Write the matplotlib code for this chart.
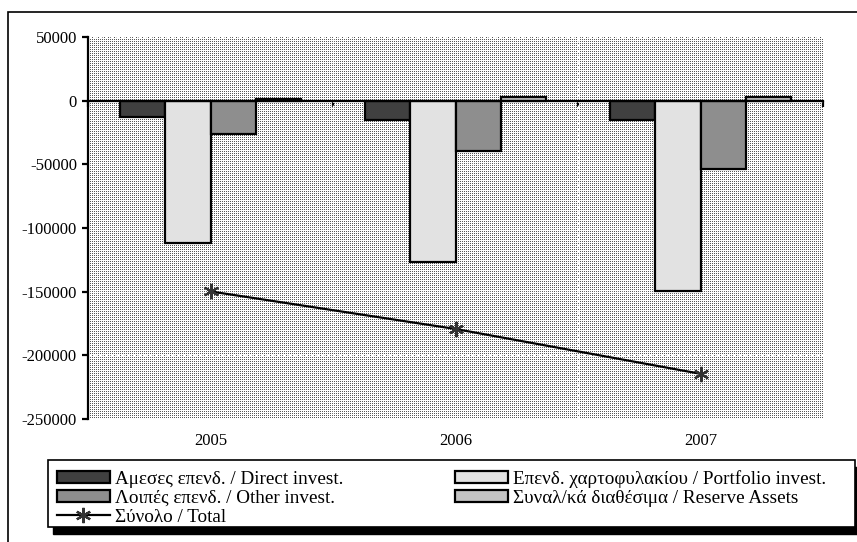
import numpy as np
import matplotlib
matplotlib.use('Agg')
import matplotlib.pyplot as plt
from matplotlib.patches import Patch, Rectangle
from matplotlib.lines import Line2D

plt.rcParams['font.family'] = ['Liberation Serif', 'DejaVu Serif']
plt.rcParams['axes.unicode_minus'] = False

years = ['2005', '2006', '2007']
direct_inv = [-13200, -15300, -15300]
portfolio_inv = [-111900, -126800, -149800]
other_inv = [-26200, -39300, -53900]
reserve_assets = [1500, 3000, 3200]
total = [-149800, -179300, -214500]

series_labels = ['Αμεσες επενδ. / Direct invest.',
                 'Επενδ. χαρτοφυλακίου / Portfolio invest.',
                 'Λοιπές επενδ. / Other invest.',
                 'Συναλ/κά διαθέσιμα / Reserve Assets']
total_label = 'Σύνολο / Total'
bar_colours = ['#404040', '#e2e2e2', '#8e8e8e', '#c4c4c4']

W, H = 857, 542
fig = plt.figure(figsize=(W / 100, H / 100), dpi=100)
fig.patch.set_facecolor('white')

# axes box in pixels (left, top, right, bottom)
px_l, px_t, px_r, px_b = 88, 37, 823, 419
ax = fig.add_axes([px_l / W, 1 - px_b / H, (px_r - px_l) / W, (px_b - px_t) / H])
ax.set_facecolor('none')

# stippled plot background, pixel for pixel
bw, bh = px_r - px_l, px_b - px_t
yy, xx = np.mgrid[0:bh, 0:bw]
dots = np.where((yy % 2 == 0) & (xx % 2 == 0), 0.35, 1.0)
bg = fig.figimage(dots, xo=px_l, yo=H - px_b, cmap='gray', vmin=0, vmax=1, zorder=-1)

x = np.arange(len(years))
w = 0.184
series = [direct_inv, portfolio_inv, other_inv, reserve_assets]
for i, vals in enumerate(series):
    ax.bar(x + (i - 1.5) * w, vals, width=w, color=bar_colours[i],
           edgecolor='black', linewidth=1.6, zorder=3)

ax.plot(x, total, color='black', linewidth=1.6, zorder=4)
ax.plot(x, total, linestyle='none', marker=(6, 2, 0), markersize=11,
        markeredgecolor='#333333', markeredgewidth=1.6, zorder=5)

ax.set_xlim(-0.5, 2.5)
ax.set_ylim(-250000, 50000)
ax.set_yticks(np.arange(-250000, 50001, 50000))
ax.yaxis.grid(True, color='white', linestyle=(0, (2, 2)), linewidth=1.0, zorder=1)
ax.set_axisbelow(True)
ax.vlines([0.5, 1.5], -250000, 50000, colors='white', linestyles=(0, (2, 2)),
          linewidth=1.0, zorder=1)

for s in ['top', 'right']:
    ax.spines[s].set_visible(False)
ax.spines['left'].set_linewidth(1.6)
ax.spines['bottom'].set_position(('data', 0))
ax.spines['bottom'].set_linewidth(1.6)
ax.spines['bottom'].set_zorder(6)
ax.set_xticks([-0.5, 0.5, 1.5, 2.5])
ax.set_xticklabels([])
ax.tick_params(axis='x', direction='out', length=4, width=1.6)
ax.tick_params(axis='y', direction='out', length=4, width=1.6, pad=4, labelsize=12)
for xi, yr in zip(x, years):
    ax.text(xi, -0.058, yr, transform=ax.get_xaxis_transform(),
            ha='center', va='center', fontsize=12)

# outer chart frame (cut off at right and bottom in the reference)
fig.patches.append(Rectangle((8 / W, -0.1), 1.2, 1.1 - 12 / H,
                             transform=fig.transFigure, fill=False,
                             edgecolor='black', linewidth=1.2, zorder=0))

# legend box with solid shadow
lx0, ly_top, lx1, ly_bot = 48, 460, 855, 527
fig.patches.append(Rectangle(((lx0 + 5) / W, 1 - (ly_bot + 7) / H), (lx1 - lx0) / W,
                             (ly_bot - ly_top) / H, transform=fig.transFigure,
                             facecolor='black', edgecolor='black', zorder=1))
fig.patches.append(Rectangle((lx0 / W, 1 - ly_bot / H), (lx1 - lx0) / W,
                             (ly_bot - ly_top) / H, transform=fig.transFigure,
                             facecolor='white', edgecolor='black', linewidth=1.2, zorder=2))

handles = [Patch(facecolor=bar_colours[0], edgecolor='black', linewidth=1.6),
           Patch(facecolor=bar_colours[2], edgecolor='black', linewidth=1.6),
           Line2D([], [], color='black', linewidth=1.6, marker=(6, 2, 0), markersize=11,
                  markeredgecolor='#333333', markeredgewidth=1.6),
           Patch(facecolor=bar_colours[1], edgecolor='black', linewidth=1.6),
           Patch(facecolor=bar_colours[3], edgecolor='black', linewidth=1.6)]
labels = [series_labels[0], series_labels[2], total_label, series_labels[1], series_labels[3]]
leg = fig.legend(handles, labels, ncol=2, loc='upper left',
                 bbox_to_anchor=(57 / W, 1 - 470 / H), frameon=False,
                 fontsize=13.8, borderpad=0, borderaxespad=0, labelspacing=0.1,
                 handlelength=2.75, handleheight=0.55, handletextpad=0.3,
                 columnspacing=5.8)
leg.set_zorder(3)

fig.savefig('out.png', dpi=100)
